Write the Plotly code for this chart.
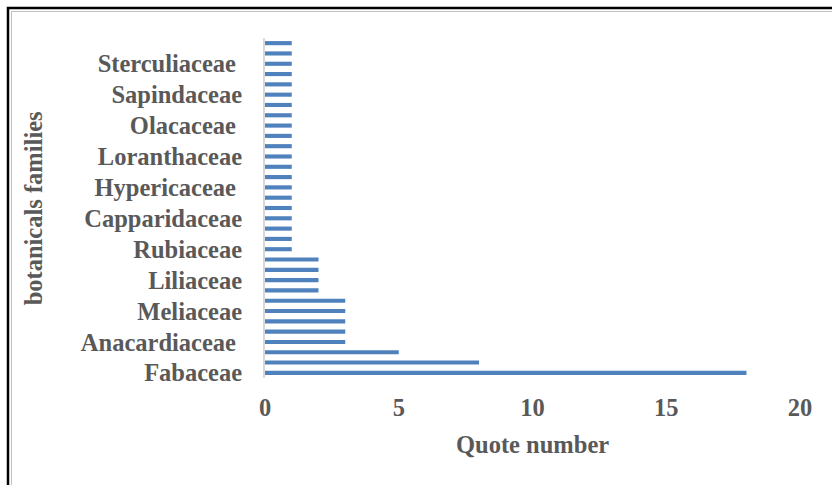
import plotly.graph_objects as go

# Number of quotes per botanical family, listed from the bottom bar upward
quote_counts = [18, 8, 5, 3, 3, 3, 3, 3, 2, 2, 2, 2] + [1] * 21

# Family names printed on the vertical axis (every third bar carries a label)
family_labels = [
    "Fabaceae", "Anacardiaceae ", "Meliaceae", "Liliaceae", "Rubiaceae",
    "Capparidaceae", "Hypericaceae ", "Loranthaceae", "Olacaceae ",
    "Sapindaceae", "Sterculiaceae ",
]
label_step = 3

x_ticks = [0, 5, 10, 15, 20]

positions = list(range(len(quote_counts)))
label_positions = positions[::label_step][: len(family_labels)]

font_family = "Liberation Serif, Times New Roman, serif"
text_grey = "#595959"
font_size = 24.5

fig = go.Figure(
    go.Bar(
        x=quote_counts,
        y=positions,
        orientation="h",
        marker=dict(color="#4F81BD", line=dict(width=0)),
        hoverinfo="x",
    )
)

fig.update_layout(
    width=832,
    height=485,
    margin=dict(l=265, r=32, t=38, b=107),
    paper_bgcolor="white",
    plot_bgcolor="white",
    bargap=0.6,
    showlegend=False,
    font=dict(family=font_family, color=text_grey, size=font_size),
)

fig.update_xaxes(
    range=[0, 20],
    tickvals=x_ticks,
    ticktext=[str(v) for v in x_ticks],
    showgrid=False,
    zeroline=False,
    showline=False,
    ticks="",
    ticklabelstandoff=12,
    tickfont=dict(family=font_family, color=text_grey, size=font_size, weight="bold"),
)

fig.update_yaxes(
    range=[-0.5, len(quote_counts) - 0.5],
    tickvals=label_positions,
    ticktext=family_labels,
    showgrid=False,
    zeroline=False,
    showline=True,
    linecolor="#D9D9D9",
    linewidth=2,
    ticks="",
    ticklabelstandoff=16,
    tickfont=dict(family=font_family, color=text_grey, size=font_size, weight="bold"),
)

# Axis titles
fig.add_annotation(
    text="<b>Quote number</b>",
    xref="x", yref="paper",
    x=10, y=-0.195,
    yanchor="middle", xanchor="center",
    showarrow=False,
    font=dict(family=font_family, color=text_grey, size=font_size),
)
fig.add_annotation(
    text="<b>botanicals families</b>",
    xref="paper", yref="paper",
    x=-0.433, y=0.5,
    xanchor="center", yanchor="middle",
    textangle=-90,
    showarrow=False,
    font=dict(family=font_family, color=text_grey, size=font_size),
)

# Chart frame: heavy black outer line with a thin grey inner line
fig.add_shape(
    type="rect", xref="paper", yref="paper",
    x0=(8 - 265) / 535, x1=1.2, y0=-0.5, y1=(377.5 - 8) / 339.5,
    line=dict(color="black", width=2.5), fillcolor="rgba(0,0,0,0)", layer="above",
)
fig.add_shape(
    type="rect", xref="paper", yref="paper",
    x0=(11.5 - 265) / 535, x1=1.2, y0=-0.5, y1=(377.5 - 11.5) / 339.5,
    line=dict(color="#BFBFBF", width=1), fillcolor="rgba(0,0,0,0)", layer="above",
)

fig.write_html("out.html")
